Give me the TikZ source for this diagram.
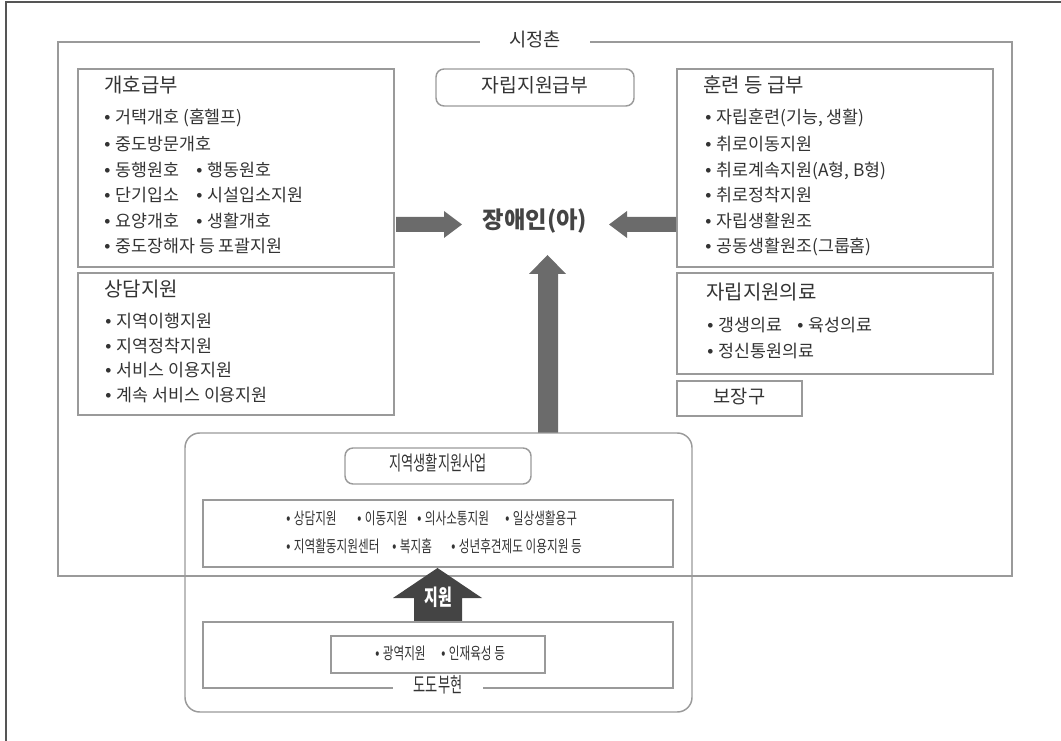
\documentclass[tikz,border=0pt]{standalone}
\usepackage{fontspec}
\usepackage{graphicx}
\setmainfont{Noto Sans CJK KR}
\newfontfamily\bulf{Liberation Sans}
\definecolor{txt}{HTML}{333333}
\definecolor{bdr}{HTML}{9A9A9A}
\definecolor{arr}{HTML}{6B6B6B}
\definecolor{darr}{HTML}{444444}
\definecolor{frm}{HTML}{555555}
\newcommand\bu{{\bulf •}\hspace{0.3em}}
\newcommand\cnd[2]{\scalebox{#1}[1]{#2}}
\begin{document}
\begin{tikzpicture}[x=0.75pt,y=-0.75pt,
  box/.style={draw=bdr, line width=1.1pt},
  itm/.style={anchor=west, inner sep=0pt, text height=0.8em, text depth=0.1em, text=txt, font=\fontsize{13}{15}\selectfont},
  ttl/.style={itm, font=\fontsize{15}{17}\selectfont},
  ctr/.style={inner sep=0pt, text height=0.8em, text depth=0.1em, text=txt},
  bitm/.style={itm, font=\fontsize{12.3}{14}\selectfont},
]
\useasboundingbox (0,0) rectangle (1061,741);
% outer frame (only top and left visible)
\draw[frm, line width=1.2pt] (6,741) -- (6,2) -- (1061,2);

% 시정촌 frame
\draw[box] (58,42) rectangle (1012,576);
\node[ctr, fill=white, minimum width=82pt, minimum height=10pt, font=\fontsize{14}{16}\selectfont] (sjc) at (535,42) {시정촌};

% left boxes
\draw[box] (78,69) rectangle (394,267);
\node[ttl] (k0) at (104,88) {개호급부};
\node[itm] (k1) at (104,119) {\bu 거택개호 (홈헬프)};
\node[itm] (k2) at (104,146) {\bu 중도방문개호};
\node[itm] (k3) at (104,171.5) {\bu 동행원호};
\node[itm] (k3b) at (196,171.5) {\bu 행동원호};
\node[itm] (k4) at (104,197) {\bu 단기입소};
\node[itm] (k4b) at (196,197) {\bu 시설입소지원};
\node[itm] (k5) at (104,222.5) {\bu 요양개호};
\node[itm] (k5b) at (196,222.5) {\bu 생활개호};
\node[itm] (k6) at (104,248) {\bu 중도장해자 등 포괄지원};

\draw[box] (78,273) rectangle (394,415);
\node[ttl] (s0) at (104,292) {상담지원};
\node[itm] (s1) at (105,323) {\bu 지역이행지원};
\node[itm] (s2) at (105,347.5) {\bu 지역정착지원};
\node[itm] (s3) at (105,372) {\bu 서비스 이용지원};
\node[itm] (s4) at (105,397) {\bu 계속 서비스 이용지원};

% center
\draw[box, rounded corners=6pt] (436,69) rectangle (634,106);
\node[ctr, font=\fontsize{14.5}{16}\selectfont] (jrg) at (535,88) {자립지원급부};
\node[ctr, text=darr, font=\fontsize{17.5}{20}\bfseries] (pwd) at (535,224) {장애인(아)};

% right boxes
\draw[box] (677,69) rectangle (993,267);
\node[ttl] (t0) at (703,88) {훈련 등 급부};
\node[itm] (t1) at (705,119) {\bu 자립훈련(기능, 생활)};
\node[itm] (t2) at (705,146) {\bu 취로이동지원};
\node[itm] (t3) at (705,171.5) {\bu 취로계속지원(A형, B형)};
\node[itm] (t4) at (705,197) {\bu 취로정착지원};
\node[itm] (t5) at (705,222.5) {\bu 자립생활원조};
\node[itm] (t6) at (705,248) {\bu 공동생활원조(그룹홈)};

\draw[box] (677,273) rectangle (993,374);
\node[ttl] (m0) at (706,295) {자립지원의료};
\node[itm] (m1) at (707,327) {\bu 갱생의료};
\node[itm] (m1b) at (797,327) {\bu 육성의료};
\node[itm] (m2) at (707,353) {\bu 정신통원의료};

\draw[box] (677,381) rectangle (802,416);
\node[ctr, font=\fontsize{14}{16}\selectfont] (bjg) at (739.5,399) {보장구};

% block arrows
\fill[arr] (396,217) -- (444,217) -- (444,211) -- (462,224.5) -- (444,238) -- (444,232) -- (396,232) -- cycle;
\fill[arr] (676,217) -- (627,217) -- (627,211) -- (609,224.5) -- (627,238) -- (627,232) -- (676,232) -- cycle;
\fill[arr] (538,433) -- (538,274) -- (529,274) -- (547.5,255) -- (566,274) -- (558,274) -- (558,433) -- cycle;

% bottom rounded container
\draw[box, rounded corners=11pt] (185,433) rectangle (692,712);
\draw[box, rounded corners=6pt] (345,448) rectangle (531,484);
\node[ctr, font=\fontsize{15}{17}\selectfont] (jys) at (438,466) {\cnd{0.66}{지역생활지원사업}};
\draw[box] (203,500) rectangle (673,567);
\node[bitm] (b1) at (286,520) {\cnd{0.71}{\bu 상담지원}};
\node[bitm] (b2) at (357,520) {\cnd{0.71}{\bu 이동지원}};
\node[bitm] (b3) at (417,520) {\cnd{0.71}{\bu 의사소통지원}};
\node[bitm] (b4) at (505,520) {\cnd{0.71}{\bu 일상생활용구}};
\node[bitm] (b5) at (286,548) {\cnd{0.71}{\bu 지역활동지원센터}};
\node[bitm] (b6) at (392,548) {\cnd{0.71}{\bu 복지홈}};
\node[bitm] (b7) at (451,548) {\cnd{0.71}{\bu 성년후견제도 이용지원 등}};

% 지원 arrow
\fill[darr] (414,622) -- (414,598) -- (393,598) -- (437.5,568) -- (482,598) -- (462,598) -- (462,622) -- cycle;
\node[ctr, text=white, font=\fontsize{16.5}{18}\bfseries] (jw) at (438,601) {\cnd{0.68}{지원}};

% 도도부현
\draw[box] (203,622) rectangle (673,688);
\node[ctr, fill=white, minimum width=68pt, minimum height=10pt, font=\fontsize{15.5}{17}\selectfont] (ddbh) at (438,688) {\cnd{0.64}{도도부현}};
\draw[box] (331,636) rectangle (545,673);
\node[bitm] (g1) at (375,655) {\cnd{0.71}{\bu 광역지원}};
\node[bitm] (g2) at (441,655) {\cnd{0.71}{\bu 인재육성 등}};
\end{tikzpicture}
\end{document}
